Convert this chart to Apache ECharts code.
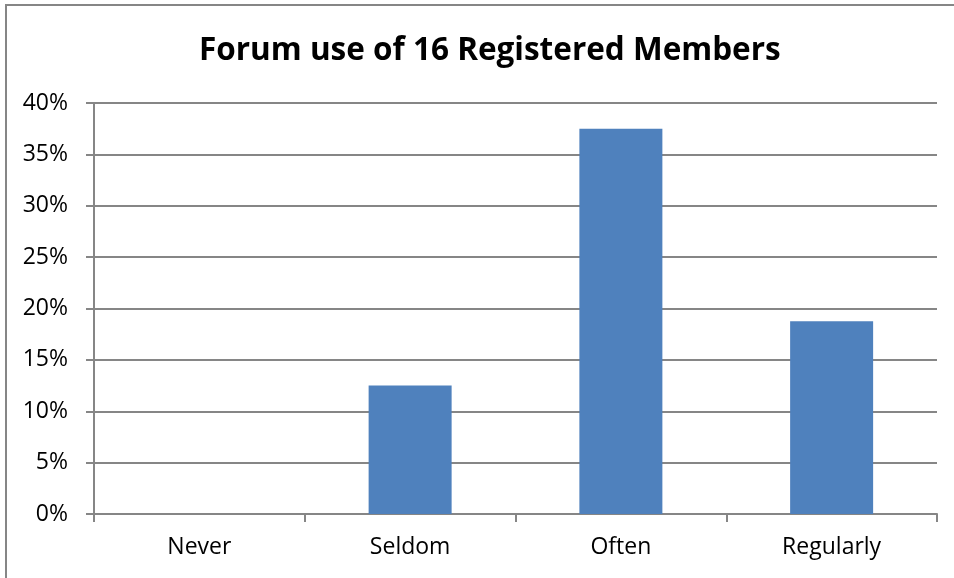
<!DOCTYPE html>
<html>
<head>
<meta charset="utf-8">
<script src="https://cdn.jsdelivr.net/npm/echarts@6/dist/echarts.min.js"></script>
<style>
    html, body { margin: 0; padding: 0; background: #fff; }
    #main { width: 954px; height: 578px; }
</style>
</head>
<body>
<div id="main"></div>
<script>
var categories = ['Never', 'Seldom', 'Often', 'Regularly'];
var shares = [0, 12.5, 37.5, 18.75]; // % of the 16 members
var yTicks = [0, 5, 10, 15, 20, 25, 30, 35, 40];

var mychart = echarts.init(document.getElementById('main'));
var axisGray = '#868686';

var option = {
    backgroundColor: '#fff',
    animation: false,
    title: {
        text: 'Forum use of 16 Registered Members',
        left: 194,
        top: 30,
        textStyle: {
            fontFamily: 'Open Sans',
            fontWeight: 'bold',
            fontSize: 31.5,
            color: '#000'
        }
    },
    graphic: [{
        type: 'rect',
        shape: { x: 6, y: 5, width: 1000, height: 1000 },
        style: { fill: 'none', stroke: axisGray, lineWidth: 2 }
    }],
    grid: {
        left: 94,
        right: 17,
        top: 103,
        bottom: 64
    },
    xAxis: {
        type: 'category',
        data: categories,
        axisLine: { lineStyle: { color: axisGray, width: 2 } },
        axisTick: { show: true, length: 8, alignWithLabel: false, lineStyle: { color: axisGray, width: 2 } },
        axisLabel: {
            margin: 22,
            fontFamily: 'Open Sans',
            fontSize: 23,
            color: '#000'
        }
    },
    yAxis: {
        type: 'value',
        min: yTicks[0],
        max: yTicks[yTicks.length - 1],
        interval: 5,
        axisLine: { show: true, lineStyle: { color: axisGray, width: 2 } },
        axisTick: { show: true, length: 8, lineStyle: { color: axisGray, width: 2 } },
        splitLine: { lineStyle: { color: axisGray, width: 2 } },
        axisLabel: {
            margin: 26,
            fontFamily: 'Open Sans',
            fontSize: 23,
            color: '#000',
            formatter: '{value}%'
        }
    },
    series: [{
        type: 'bar',
        data: shares,
        barWidth: 83,
        itemStyle: { color: '#4F81BD' }
    }]
};
mychart.setOption(option);
</script>
</body>
</html>
